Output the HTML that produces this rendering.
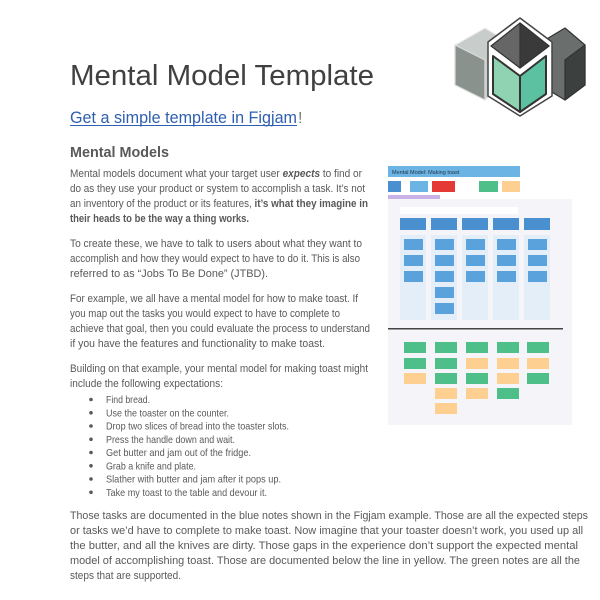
<!DOCTYPE html>
<html><head><meta charset="utf-8"><style>
html,body{margin:0;padding:0;background:#fff;width:600px;height:600px;overflow:hidden}
svg text{font-family:"Liberation Sans",sans-serif}
</style></head><body>
<svg width="600" height="600" viewBox="0 0 600 600" xmlns="http://www.w3.org/2000/svg">
<!-- logo -->
<g stroke="#333" stroke-width="1.2" stroke-linejoin="round">
<polygon points="455,45 485,28 505,40 505,85 485,100 455,85" fill="#c8ccca" stroke="#eee"/>
<polygon points="455,45 485,60 485,100 455,85" fill="#8a928e" stroke="#ddd"/>
<polygon points="545,40 565,28 585,45 585,85 565,100 545,88" fill="#6a6e6c"/>
<polygon points="565,60 585,45 585,85 565,100" fill="#3c403e"/>
<polygon points="520,18 552,42 552,96 520,116 488,96 488,42" fill="#fff" stroke="#444" stroke-width="1.5"/>
<polygon points="520,23 549,46 520,68 491,46" fill="#666"/>
<polygon points="520,23 549,46 520,68" fill="#3a3a3a"/>
<polygon points="493,56 520,76 520,112 493,94" fill="#8fd3b3" stroke="#333" stroke-width="2"/>
<polygon points="520,76 546,56 546,94 520,112" fill="#5cc1a0" stroke="#333" stroke-width="2"/>
</g>
<text x="70" y="85" font-size="29" fill="#404040" textLength="304" lengthAdjust="spacingAndGlyphs">Mental Model Template</text>
<text x="70" y="123" font-size="16.5" fill="#2e5fb0" textLength="227" lengthAdjust="spacingAndGlyphs">Get a simple template in Figjam</text>
<line x1="70" y1="125.5" x2="297" y2="125.5" stroke="#2e5fb0" stroke-width="1"/>
<text x="298" y="123" font-size="16" fill="#777">!</text>
<text x="70" y="157" font-size="14.5" font-weight="bold" fill="#595959" textLength="99" lengthAdjust="spacingAndGlyphs">Mental Models</text>
<g font-size="11.2" fill="#595959">
<text x="70" y="177" textLength="292" lengthAdjust="spacingAndGlyphs">Mental models document what your target user <tspan font-weight="bold" font-style="italic">expects</tspan> to find or</text>
<text x="70" y="192" textLength="295" lengthAdjust="spacingAndGlyphs">do as they use your product or system to accomplish a task. It’s not</text>
<text x="70" y="207" textLength="298" lengthAdjust="spacingAndGlyphs">an inventory of the product or its features, <tspan font-weight="bold">it’s what they imagine in</tspan></text>
<text x="70" y="222" textLength="179" lengthAdjust="spacingAndGlyphs" font-weight="bold">their heads to be the way a thing works.</text>
<text x="70" y="247" textLength="292" lengthAdjust="spacingAndGlyphs">To create these, we have to talk to users about what they want to</text>
<text x="70" y="262" textLength="290" lengthAdjust="spacingAndGlyphs">accomplish and how they would expect to have to do it. This is also</text>
<text x="70" y="277" textLength="198" lengthAdjust="spacingAndGlyphs">referred to as “Jobs To Be Done” (JTBD).</text>
<text x="70" y="302" textLength="288" lengthAdjust="spacingAndGlyphs">For example, we all have a mental model for how to make toast. If</text>
<text x="70" y="317" textLength="270" lengthAdjust="spacingAndGlyphs">you map out the tasks you would expect to have to complete to</text>
<text x="70" y="332" textLength="300" lengthAdjust="spacingAndGlyphs">achieve that goal, then you could evaluate the process to understand</text>
<text x="70" y="347" textLength="255" lengthAdjust="spacingAndGlyphs">if you have the features and functionality to make toast.</text>
<text x="70" y="372" textLength="298" lengthAdjust="spacingAndGlyphs">Building on that example, your mental model for making toast might</text>
<text x="70" y="387" textLength="153" lengthAdjust="spacingAndGlyphs">include the following expectations:</text>
</g>
<g font-size="10.3" fill="#595959">
<circle cx="91" cy="399.5" r="1.8"/><text x="106" y="403" textLength="44" lengthAdjust="spacingAndGlyphs">Find bread.</text>
<circle cx="91" cy="412.8" r="1.8"/><text x="106" y="416.3" textLength="123" lengthAdjust="spacingAndGlyphs">Use the toaster on the counter.</text>
<circle cx="91" cy="426" r="1.8"/><text x="106" y="429.5" textLength="183" lengthAdjust="spacingAndGlyphs">Drop two slices of bread into the toaster slots.</text>
<circle cx="91" cy="439.3" r="1.8"/><text x="106" y="442.8" textLength="129" lengthAdjust="spacingAndGlyphs">Press the handle down and wait.</text>
<circle cx="91" cy="452.5" r="1.8"/><text x="106" y="456" textLength="145" lengthAdjust="spacingAndGlyphs">Get butter and jam out of the fridge.</text>
<circle cx="91" cy="465.8" r="1.8"/><text x="106" y="469.3" textLength="90" lengthAdjust="spacingAndGlyphs">Grab a knife and plate.</text>
<circle cx="91" cy="479" r="1.8"/><text x="106" y="482.5" textLength="175" lengthAdjust="spacingAndGlyphs">Slather with butter and jam after it pops up.</text>
<circle cx="91" cy="492.3" r="1.8"/><text x="106" y="495.8" textLength="161" lengthAdjust="spacingAndGlyphs">Take my toast to the table and devour it.</text>
</g>
<g font-size="11.2" fill="#595959">
<text x="70" y="519" textLength="518" lengthAdjust="spacingAndGlyphs">Those tasks are documented in the blue notes shown in the Figjam example. Those are all the expected steps</text>
<text x="70" y="534" textLength="513" lengthAdjust="spacingAndGlyphs">or tasks we’d have to complete to make toast. Now imagine that your toaster doesn’t work, you used up all</text>
<text x="70" y="549" textLength="508" lengthAdjust="spacingAndGlyphs">the butter, and all the knives are dirty. Those gaps in the experience don’t support the expected mental</text>
<text x="70" y="564" textLength="510" lengthAdjust="spacingAndGlyphs">model of accomplishing toast. Those are documented below the line in yellow. The green notes are all the</text>
<text x="70" y="579" textLength="111" lengthAdjust="spacingAndGlyphs">steps that are supported.</text>
</g>
<!-- figjam image -->
<rect x="388" y="166" width="132" height="11" fill="#6cb4e4"/>
<text x="392" y="174" font-size="5.5" fill="#234">Mental Model: Making toast</text>
<rect x="388" y="181" width="13" height="11" fill="#4a8fd0"/>
<rect x="410" y="181" width="18" height="11" fill="#6cb4e4"/>
<rect x="432" y="181" width="23" height="11" fill="#e53935"/>
<rect x="479" y="181" width="19" height="11" fill="#4fbf8a"/>
<rect x="502" y="181" width="18" height="11" fill="#fdcf90"/>
<rect x="388" y="195" width="52" height="4" fill="#c9b2e8"/>
<rect x="388" y="199" width="184" height="226" fill="#f5f4f8"/>
<rect x="400" y="207" width="118" height="7" fill="#fff"/>
<g fill="#e3eef9">
<rect x="400" y="235" width="26" height="85"/><rect x="431" y="235" width="26" height="85"/><rect x="462" y="235" width="26" height="85"/><rect x="493" y="235" width="26" height="85"/><rect x="524" y="235" width="26" height="85"/>
</g>
<g fill="#4a8fd0">
<rect x="400" y="218" width="26" height="12"/><rect x="431" y="218" width="26" height="12"/><rect x="462" y="218" width="26" height="12"/><rect x="493" y="218" width="26" height="12"/><rect x="524" y="218" width="26" height="12"/>
</g>
<g fill="#5aa2dc">
<rect x="404" y="239" width="19" height="11"/><rect x="404" y="255" width="19" height="11"/><rect x="404" y="271" width="19" height="11"/>
<rect x="435" y="239" width="19" height="11"/><rect x="435" y="255" width="19" height="11"/><rect x="435" y="271" width="19" height="11"/><rect x="435" y="287" width="19" height="11"/><rect x="435" y="303" width="19" height="11"/>
<rect x="466" y="239" width="19" height="11"/><rect x="466" y="255" width="19" height="11"/><rect x="466" y="271" width="19" height="11"/>
<rect x="497" y="239" width="19" height="11"/><rect x="497" y="255" width="19" height="11"/><rect x="497" y="271" width="19" height="11"/>
<rect x="528" y="239" width="19" height="11"/><rect x="528" y="255" width="19" height="11"/><rect x="528" y="271" width="19" height="11"/>
</g>
<rect x="388" y="328" width="175" height="1.5" fill="#444"/>
<g fill="#4fbf8a">
<rect x="404" y="342" width="22" height="11"/><rect x="404" y="358" width="22" height="11"/>
<rect x="435" y="342" width="22" height="11"/><rect x="435" y="358" width="22" height="11"/><rect x="435" y="373" width="22" height="11"/>
<rect x="466" y="342" width="22" height="11"/><rect x="466" y="373" width="22" height="11"/>
<rect x="497" y="342" width="22" height="11"/><rect x="497" y="388" width="22" height="11"/>
<rect x="527" y="342" width="22" height="11"/><rect x="527" y="373" width="22" height="11"/>
</g>
<g fill="#fdcf90">
<rect x="404" y="373" width="22" height="11"/>
<rect x="435" y="388" width="22" height="11"/><rect x="435" y="403" width="22" height="11"/>
<rect x="466" y="358" width="22" height="11"/><rect x="466" y="388" width="22" height="11"/>
<rect x="497" y="358" width="22" height="11"/><rect x="497" y="373" width="22" height="11"/>
<rect x="527" y="358" width="22" height="11"/>
</g>
</svg>
</body></html>
